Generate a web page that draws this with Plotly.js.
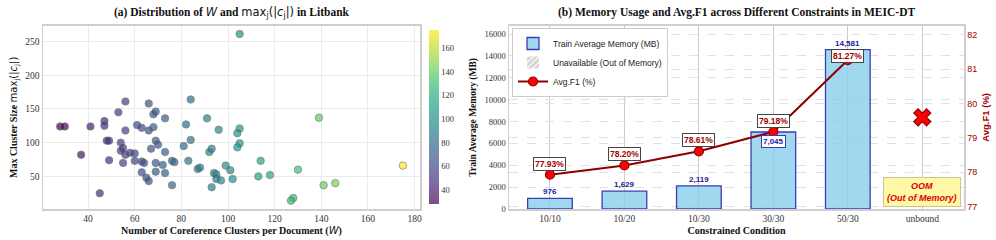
<!DOCTYPE html>
<html>
<head>
<meta charset="utf-8">
<script src="https://cdn.plot.ly/plotly-3.0.1.min.js"></script>
<style>html,body{margin:0;padding:0;background:#fff;}#chart{width:996px;height:240px;}</style>
</head>
<body>
<div id="chart"></div>
<script>
// ---------- data: (a) Litbank ----------
const clustersPerDoc = [28,30,41,37,47,47,53,56,48,49,49,45,54,55,54,55,56,56,58,60,60,61,63,63,64,63,65,66,66,66,68,69,73,68,69,70,67,73,69,72,76,77,69,73,76,82,84,81,84,83,87,88,91,96,92,93,94,95,95,97,93,99,101,102,105,104,105,104,105,114,113,118,139,130,128,127,141,146,175];
const maxClusterSize = [124,124,124,82,132,125,145,161,103,103,74,25,100,92,88,70,118,82,85,84,73,126,122,72,70,56,48,43,118,158,142,146,136,123,103,97,91,86,70,67,73,71,57,55,37,127,164,95,104,73,61,63,136,119,86,91,55,53,46,44,34,66,59,46,121,114,99,93,261,73,50,52,137,60,18,14,37,40,66];
const colorbarTicks = [40,60,80,100,120,140,160];

// ---------- data: (b) MEIC-DT ----------
const conditions = ['10/10','10/20','10/30','30/30','50/30','unbound'];
const memoryMB = [976,1629,2119,7045,14581];
const avgF1 = [77.93,78.20,78.61,79.18,81.27];
const oomCondition = 'unbound';

// ---------- helpers ----------
const SERIF = 'Liberation Serif, Times New Roman, serif';
const SANS = 'Liberation Sans, Arial, sans-serif';
const viridis = [[0,'#440154'],[0.0627,'#48186a'],[0.1255,'#472d7b'],[0.1882,'#424086'],[0.251,'#3b528b'],[0.3137,'#33638d'],[0.3765,'#2c728e'],[0.4392,'#26828e'],[0.502,'#21918c'],[0.5647,'#1fa088'],[0.6275,'#28ae80'],[0.6902,'#3fbc73'],[0.7529,'#5ec962'],[0.8157,'#84d44b'],[0.8784,'#addc30'],[0.9412,'#d8e219'],[1,'#fde725']];
function blend(hex, a){
  const r=parseInt(hex.slice(1,3),16), g=parseInt(hex.slice(3,5),16), b=parseInt(hex.slice(5,7),16);
  const f=c=>Math.round(a*c+(1-a)*255);
  return 'rgb('+f(r)+','+f(g)+','+f(b)+')';
}
const viridisFaded = viridis.map(s=>[s[0], blend(s[1],0.7)]);

const wMin = Math.min(...clustersPerDoc), wMax = Math.max(...clustersPerDoc);
const hMin = Math.min(...maxClusterSize), hMax = Math.max(...maxClusterSize);
const xPad = 0.05*(wMax-wMin), yPad = 0.05*(hMax-hMin);

const memTop = Math.max(...memoryMB)*1.15;
const f1Lo = Math.min(...avgF1)-1, f1Hi = Math.max(...avgF1)+1;
const barConds = conditions.slice(0, memoryMB.length);

// ---------- traces ----------
const scatter = {
  type:'scatter', mode:'markers', x:clustersPerDoc, y:maxClusterSize, xaxis:'x', yaxis:'y',
  showlegend:false, hoverinfo:'skip',
  marker:{size:7.5, color:clustersPerDoc, colorscale:viridis, cmin:wMin, cmax:wMax, opacity:0.7,
          line:{color:'rgba(70,70,70,0.8)', width:0.8}, showscale:false}
};
const scaleTrace = {
  type:'scatter', mode:'markers', x:[clustersPerDoc[0]], y:[maxClusterSize[0]], xaxis:'x', yaxis:'y',
  showlegend:false, hoverinfo:'skip',
  marker:{size:1, opacity:0, color:[clustersPerDoc[0]], colorscale:viridisFaded, cmin:wMin, cmax:wMax, showscale:true,
    colorbar:{x:429/996, xanchor:'left', y:1-117.2/240, yanchor:'middle', len:174/240, lenmode:'fraction', thickness:10,
      outlinewidth:0, tickvals:colorbarTicks, ticks:'', ticklabelposition:'outside',
      tickfont:{family:SERIF, size:8.5, color:'#333'}, xpad:0, ypad:0}}
};
const memBars = {
  type:'bar', name:'Train Average Memory (MB)', x:barConds, y:memoryMB, xaxis:'x2', yaxis:'y2', width:0.6,
  marker:{color:'rgba(135,206,235,0.8)', line:{color:'#3c3cb4', width:1.3}}, hoverinfo:'skip'
};
const oomLegend = {
  type:'bar', name:'Unavailable (Out of Memory)', x:[oomCondition], y:[0], xaxis:'x2', yaxis:'y2', width:0.6,
  marker:{color:'#d9d9d9', line:{color:'#bdbdbd', width:0}, pattern:{shape:'/', fgcolor:'#ffffff', bgcolor:'#d3d3d3', size:5, solidity:0.3}},
  hoverinfo:'skip'
};
const f1Line = {
  type:'scatter', mode:'lines+markers', name:'Avg.F1 (%)', x:barConds, y:avgF1, xaxis:'x2', yaxis:'y3',
  line:{color:'#8b0000', width:2}, marker:{size:9, color:'#ff0000', line:{color:'#8b0000', width:1.2}}, hoverinfo:'skip'
};
const oomMark = {
  type:'scatter', mode:'markers', x:[oomCondition], y:[(f1Lo+f1Hi)/2], xaxis:'x2', yaxis:'y3', showlegend:false,
  marker:{symbol:'x', size:15, color:'#ff0000', line:{color:'#8b0000', width:1.2}}, hoverinfo:'skip'
};

// ---------- annotations ----------
const ann = [];
ann.push({xref:'paper', yref:'paper', x:231.5/996, y:1-12/240, xanchor:'center', yanchor:'middle', showarrow:false,
  font:{family:SERIF, size:11.5, color:'#111'},
  text:'<b>(a) Distribution of </b><span style="font-family:DejaVu Sans"><i>W</i></span><b> and </b><span style="font-family:DejaVu Sans">max<sub>j</sub>(|<i>c</i><sub>j</sub>|)</span><b> in Litbank</b>'});
ann.push({xref:'paper', yref:'paper', x:736.5/996, y:1-12/240, xanchor:'center', yanchor:'middle', showarrow:false,
  font:{family:SERIF, size:11.5, color:'#111'},
  text:'<b>(b) Memory Usage and Avg.F1 across Different Constraints in MEIC-DT</b>'});

const memRange = memTop, f1Range = f1Hi-f1Lo;
memoryMB.forEach((m,i)=>{
  const barFrac = m/memRange, f1Frac = (avgF1[i]-f1Lo)/f1Range;
  const clash = Math.abs(barFrac-f1Frac) < 0.03;
  const a = {x:barConds[i], y:m, xref:'x2', yref:'y2', showarrow:false, text:'<b>'+m.toLocaleString('en-US')+'</b>',
    font:{family:SANS, size:8, color:'#1a1a9c'}};
  if(clash){
    Object.assign(a,{yanchor:'top', yshift:-3, bgcolor:'#ffffff', bordercolor:'#3c3cb4', borderwidth:1, borderpad:1});
  } else {
    Object.assign(a,{yanchor:'bottom', yshift:0});
  }
  ann.push(a);
});
avgF1.forEach((v,i)=>{
  const f1Frac = (v-f1Lo)/f1Range;
  ann.push({x:barConds[i], y:v, xref:'x2', yref:'y3', showarrow:false, yanchor:'middle',
    yshift: f1Frac>0.75 ? 4 : 11, text:'<b>'+v.toFixed(2)+'%</b>',
    font:{family:SANS, size:8.5, color:'#a00000'}, bgcolor:'#ffffff', bordercolor:'#444', borderwidth:1, borderpad:1});
});
ann.push({x:oomCondition, y:0.01, xref:'x2', yref:'y3 domain', yanchor:'bottom', showarrow:false,
  text:'<b><i>OOM<br>(Out of Memory)</i></b>', font:{family:SANS, size:9, color:'#e00000'},
  bgcolor:'#fff8a6', bordercolor:'#c8c39a', borderwidth:1, borderpad:3});

// ---------- layout ----------
const yDom = [(240-209)/240, (240-25.7)/240];
const gridC = '#ebebeb';
const layout = {
  width:996, height:240, margin:{l:0,r:0,t:0,b:0}, paper_bgcolor:'#fff', plot_bgcolor:'#fff',
  showlegend:true, barmode:'overlay',
  xaxis:{domain:[43/996, 420/996], range:[wMin-xPad, wMax+xPad], tick0:0, dtick:20, ticks:'', showgrid:true, gridcolor:gridC, gridwidth:1,
    zeroline:false, showline:true, mirror:true, linecolor:'#cfcfcf', linewidth:1.5,
    tickfont:{family:SERIF, size:9.5, color:'#333'},
    title:{text:'<b>Number of Coreference Clusters per Document (</b><span style="font-family:DejaVu Sans"><i>W</i></span><b>)</b>', font:{family:SERIF, size:10, color:'#111'}, standoff:4}},
  yaxis:{domain:yDom, range:[hMin-yPad, hMax+yPad], tick0:0, dtick:50, ticks:'', showgrid:true, gridcolor:gridC, gridwidth:1,
    zeroline:false, showline:true, mirror:true, linecolor:'#cfcfcf', linewidth:1.5,
    tickfont:{family:SERIF, size:9.5, color:'#333'},
    title:{text:'<b>Max Cluster Size </b><span style="font-family:DejaVu Sans">max<sub>j</sub>(|<i>c</i><sub>j</sub>|)</span>', font:{family:SERIF, size:10, color:'#111'}, standoff:6}},
  xaxis2:{domain:[509/996, 964/996], anchor:'y2', type:'category', categoryorder:'array', categoryarray:conditions, range:[-0.55,5.56],
    ticks:'', showgrid:true, gridcolor:'#cccccc', gridwidth:1, zeroline:false, showline:true, mirror:true, linecolor:'#cfcfcf', linewidth:1.5,
    tickfont:{family:SERIF, size:9.5, color:'#333'},
    title:{text:'<b>Constrained Condition</b>', font:{family:SERIF, size:10, color:'#111'}, standoff:4}},
  yaxis2:{domain:yDom, anchor:'x2', range:[0, memTop], dtick:2000, tickformat:'d', ticks:'', showgrid:true, gridcolor:'#e2e2e2', griddash:'dash', gridwidth:1,
    zeroline:false, showline:true, linecolor:'#cfcfcf', linewidth:1.5,
    tickfont:{family:SERIF, size:8.5, color:'#333'},
    title:{text:'<b>Train Average Memory (MB)</b>', font:{family:SERIF, size:9.5, color:'#111'}, standoff:6}},
  yaxis3:{domain:yDom, anchor:'x2', overlaying:'y2', side:'right', range:[f1Lo, f1Hi], dtick:1, ticks:'', showgrid:true, gridcolor:'#e2e2e2', griddash:'dash', gridwidth:1,
    zeroline:false, showline:true, linecolor:'#cfcfcf', linewidth:1.5,
    tickfont:{family:SANS, size:9, color:'#a00000'},
    title:{text:'<b>Avg.F1 (%)</b>', font:{family:SANS, size:9.5, color:'#a00000'}, standoff:6}},
  legend:{x:512/996, y:1-28/240, xanchor:'left', yanchor:'top', bgcolor:'#ffffff', bordercolor:'#cccccc', borderwidth:1,
    font:{family:SANS, size:8.5, color:'#222'}, traceorder:'normal', itemwidth:30, tracegroupgap:0},
  annotations:ann
};

Plotly.newPlot('chart', [scatter, scaleTrace, memBars, oomLegend, f1Line, oomMark], layout, {staticPlot:true, displayModeBar:false});
</script>
</body>
</html>
